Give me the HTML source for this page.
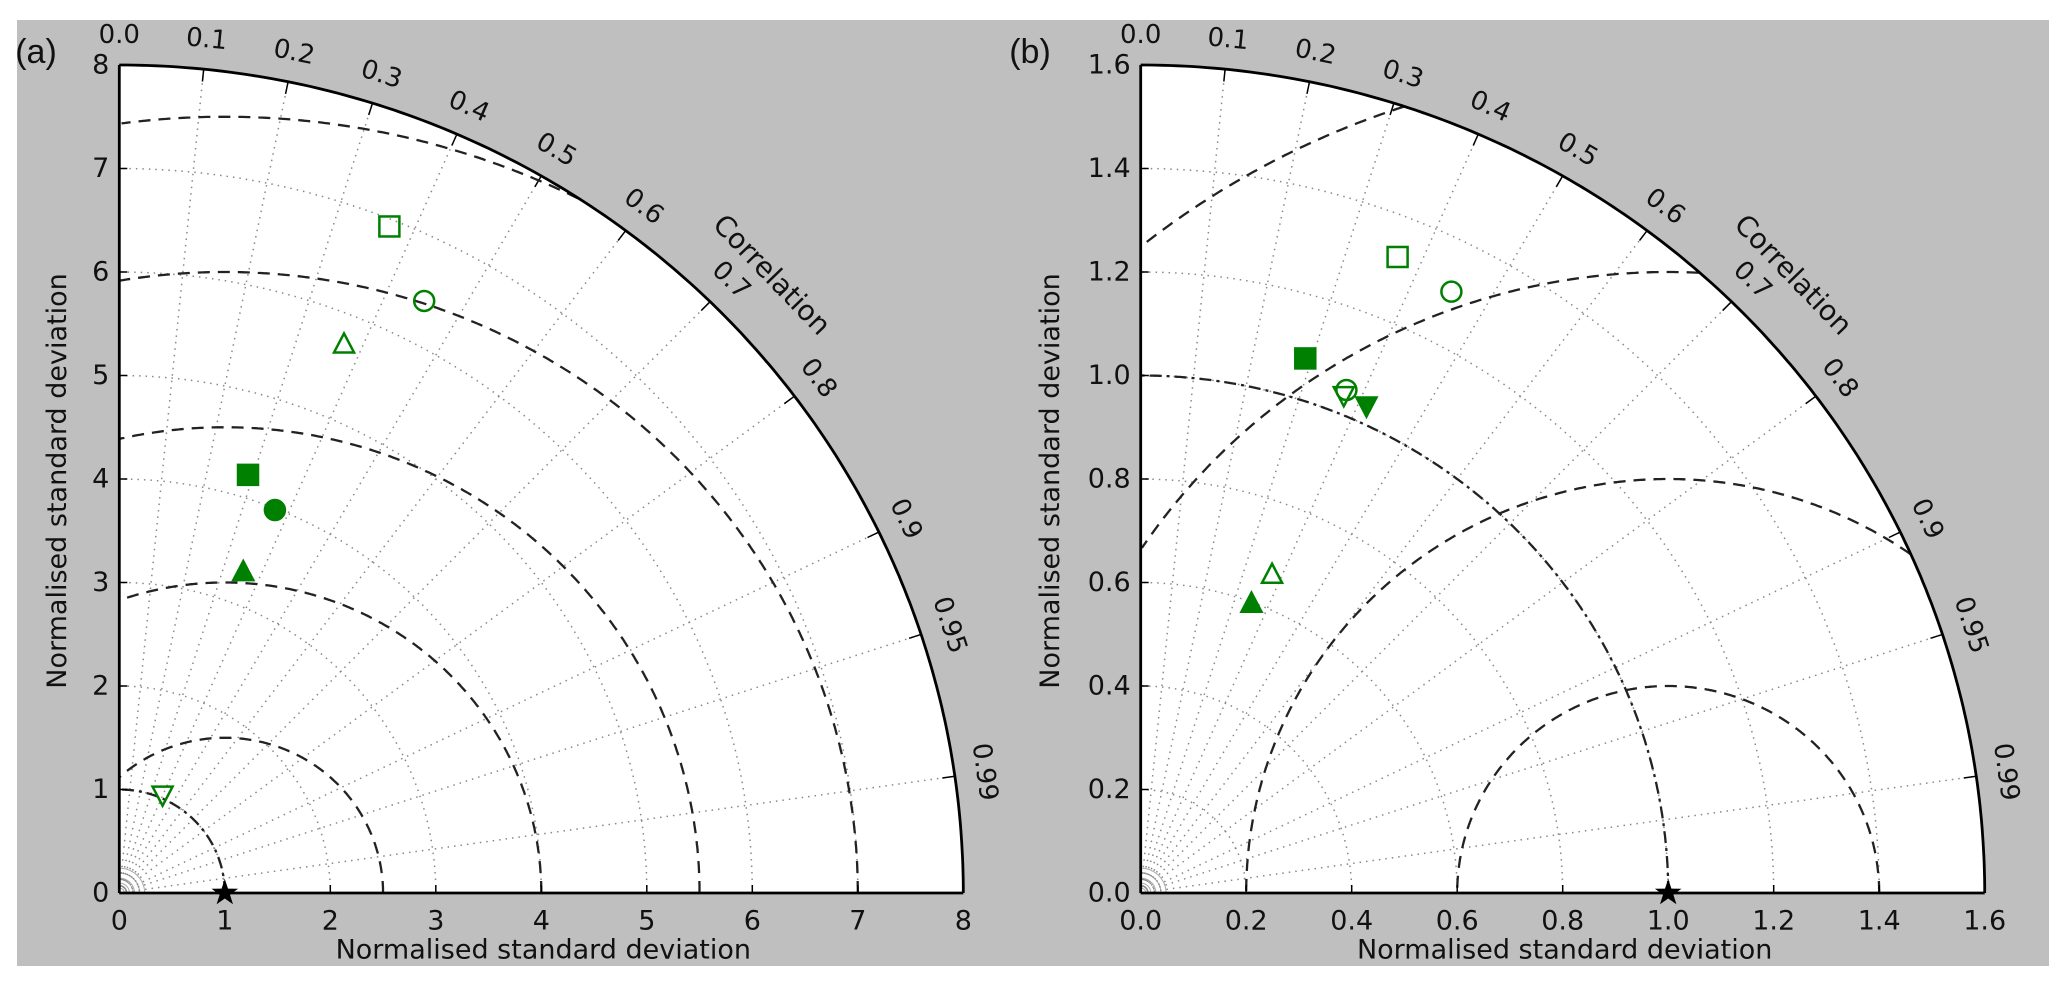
<!DOCTYPE html>
<html><head><meta charset="utf-8"><style>
html,body{margin:0;padding:0;background:#fff;}
svg{display:block;font-family:"DejaVu Sans","Liberation Sans",sans-serif;}
</style></head><body>
<svg id="fig" width="2067" height="985" viewBox="0 0 2067 985" xmlns="http://www.w3.org/2000/svg">
<rect x="17" y="20" width="2032" height="946" fill="#bfbfbf"/>
</svg>
<script>
// ---- Panel (a) data ----
const aStdMax = 8;
const aXTicks = [0,1,2,3,4,5,6,7,8];
const aXTickLabels = ["0","1","2","3","4","5","6","7","8"];
const aYTickLabels = ["0","1","2","3","4","5","6","7","8"];
const aRmsRadii = [1.5,3,4.5,6,7.5];
const aStdGrid = [1,2,3,4,5,6,7];
const aPointNames = ["open-square","open-circle","open-triangle","filled-square","filled-circle","filled-triangle","open-down-triangle"];
const aPointX = [2.56,2.89,2.13,1.22,1.475,1.175,0.41];
const aPointY = [6.44,5.72,5.30,4.04,3.70,3.10,0.95];
// ---- Panel (b) data ----
const bStdMax = 1.6;
const bXTicks = [0,0.2,0.4,0.6,0.8,1.0,1.2,1.4,1.6];
const bXTickLabels = ["0.0","0.2","0.4","0.6","0.8","1.0","1.2","1.4","1.6"];
const bYTickLabels = ["0.0","0.2","0.4","0.6","0.8","1.0","1.2","1.4","1.6"];
const bRmsRadii = [0.4,0.8,1.2,1.6];
const bStdGrid = [0.2,0.4,0.6,0.8,1.0,1.2,1.4];
const bPointNames = ["open-square","open-circle","filled-square","open-circle-2","open-down-triangle","filled-down-triangle","open-triangle","filled-triangle"];
const bPointX = [0.487,0.589,0.312,0.39,0.385,0.428,0.249,0.210];
const bPointY = [1.229,1.162,1.033,0.972,0.962,0.942,0.615,0.559];
// ---- shared ----
const corrTicks = [0,0.1,0.2,0.3,0.4,0.5,0.6,0.7,0.8,0.9,0.95,0.99];
const corrLabels = ["0.0","0.1","0.2","0.3","0.4","0.5","0.6","0.7","0.8","0.9","0.95","0.99"];

const NS="http://www.w3.org/2000/svg";
const svg=document.getElementById('fig');
function mk(tag,attrs,parent){const e=document.createElementNS(NS,tag);for(const k in attrs)e.setAttribute(k,attrs[k]);(parent||svg).appendChild(e);return e;}

function panel(cfg){
  const g=mk('g',{});
  
  
  const ox=cfg.ox, oy=893, Rx=844, Ry=828, M=cfg.max;
  const sx=Rx/M, sy=Ry/M;
  const X=v=>ox+v*sx, Y=v=>oy-v*sy;
  function polar(r,th){return [X(r*Math.cos(th)),Y(r*Math.sin(th))];}
  let d=`M${ox},${oy} `;
  for(let i=0;i<=180;i++){const p=polar(M,Math.PI/2*i/180);d+=`L${p[0].toFixed(1)},${p[1].toFixed(1)} `;}
  d+='Z';
  const bg=mk('path',{d:d,fill:'#fff',stroke:'none'},g);
  
  
  cfg.stdGrid.forEach(r=>{
    let dd='';for(let i=0;i<=90;i++){const p=polar(r,Math.PI/2*i/90);dd+=(i?'L':'M')+p[0].toFixed(1)+','+p[1].toFixed(1)+' ';}
    const e=mk('path',{d:dd,fill:'none',stroke:'#888','stroke-width':1.5,'stroke-dasharray':'1.5,5'},g);
    
    
  });
  for(let k=1;k<=5;k++){const r=M*0.006*k;let dd='';for(let i=0;i<=30;i++){const p=polar(r,Math.PI/2*i/30);dd+=(i?'L':'M')+p[0].toFixed(1)+','+p[1].toFixed(1)+' ';}
    const e=mk('path',{d:dd,fill:'none',stroke:'#aaa','stroke-width':1},g);
    
    }
  corrTicks.forEach((c,i)=>{
    const th=Math.acos(c);const p=polar(M,th);
    const e=mk('line',{x1:ox,y1:oy,x2:p[0],y2:p[1],stroke:'#888','stroke-width':1.5,'stroke-dasharray':'1.5,5'},g);
    
    
    const q=polar(M*0.985,th);
    mk('line',{x1:q[0],y1:q[1],x2:p[0],y2:p[1],stroke:'#000','stroke-width':1.5},g);
    const L=[ox+(M*Math.cos(th))*sx+Math.cos(th)*30, oy-(M*Math.sin(th))*sy-Math.sin(th)*30];
    const rot=90-th*180/Math.PI;
    const t=mk('text',{x:L[0],y:L[1],'font-size':26,'text-anchor':'middle','dominant-baseline':'central',transform:`rotate(${rot.toFixed(1)} ${L[0].toFixed(1)} ${L[1].toFixed(1)})`,fill:'#111'},g);
    t.textContent=corrLabels[i];
    
    
  });
  function clippedCircle(cx,r,dash,name,width){
    let dd='',pen=false;
    for(let i=0;i<=720;i++){const a=Math.PI*i/720;const x=cx+r*Math.cos(a),y=r*Math.sin(a);
      if(x>=0&&Math.hypot(x,y)<=M){dd+=(pen?'L':'M')+X(x).toFixed(1)+','+Y(y).toFixed(1)+' ';pen=true;}else pen=false;}
    const e=mk('path',{d:dd,fill:'none',stroke:'#222','stroke-width':width,'stroke-dasharray':dash},g);
    
    
  }
  cfg.rms.forEach(r=>clippedCircle(1,r,'12,8','rms-contour',2.3));
  clippedCircle(0,1,'12,5,3,5','reference-std-arc',2.3);
  let od='';for(let i=0;i<=180;i++){const p=polar(M,Math.PI/2*i/180);od+=(i?'L':'M')+p[0].toFixed(1)+','+p[1].toFixed(1)+' ';}
  const oa=mk('path',{d:od,fill:'none',stroke:'#000','stroke-width':2.8},g);
  
  
  const xa=mk('line',{x1:ox,y1:oy,x2:X(M),y2:oy,stroke:'#000','stroke-width':2.8},g);
  
  
  const ya=mk('line',{x1:ox,y1:oy,x2:ox,y2:Y(M),stroke:'#000','stroke-width':2.8},g);
  
  
  cfg.xticks.forEach((v,i)=>{
    mk('line',{x1:X(v),y1:oy,x2:X(v),y2:oy-8,stroke:'#000','stroke-width':1.5},g);
    const t=mk('text',{x:X(v),y:oy+28,'font-size':27,'text-anchor':'middle','dominant-baseline':'central',fill:'#111'},g);
    t.textContent=cfg.xlabels[i];
    
    
    mk('line',{x1:ox,y1:Y(v),x2:ox+8,y2:Y(v),stroke:'#000','stroke-width':1.5},g);
    const u=mk('text',{x:ox-10,y:Y(v),'font-size':27,'text-anchor':'end','dominant-baseline':'central',fill:'#111'},g);
    u.textContent=cfg.ylabels[i];
    
    
  });
  const xt=mk('text',{x:ox+424,y:950,'font-size':27,'text-anchor':'middle','dominant-baseline':'central',fill:'#111'},g);
  xt.textContent='Normalised standard deviation';
  
  
  const yx=ox-cfg.yTitleOff, yy=481;
  const yt=mk('text',{x:yx,y:yy,'font-size':27,'text-anchor':'middle','dominant-baseline':'central',fill:'#111',transform:`rotate(-90 ${yx} ${yy})`},g);
  yt.textContent='Normalised standard deviation';
  
  
  const ca=44*Math.PI/180;const cx=ox+Math.cos(ca)*M*sx*1.075, cy=oy-Math.sin(ca)*M*sy*1.075;
  const ct=mk('text',{x:cx,y:cy,'font-size':28,'text-anchor':'middle','dominant-baseline':'central',fill:'#111',transform:`rotate(46 ${cx.toFixed(1)} ${cy.toFixed(1)})`},g);
  ct.textContent='Correlation';
  
  
  const pl=mk('text',{x:cfg.labelX,y:52,'font-size':34,'text-anchor':'middle','dominant-baseline':'central',fill:'#111',style:'font-family:"Liberation Sans",sans-serif'},g);
  pl.textContent=cfg.label;
  
  
  const G='#008000';
  function marker(kind,px,py,name){
    const s=10;let e;
    const open=kind.startsWith('open');
    const fill=open?'none':G, st={stroke:G,'stroke-width':2.5,fill:fill};
    if(kind.includes('square'))e=mk('rect',Object.assign({x:px-s,y:py-s,width:2*s,height:2*s},st),g);
    else if(kind.includes('circle'))e=mk('circle',Object.assign({cx:px,cy:py,r:s},st),g);
    else if(kind.includes('down'))e=mk('polygon',Object.assign({points:`${px-s},${py-s*0.8} ${px+s},${py-s*0.8} ${px},${py+s*1.1}`},st),g);
    else e=mk('polygon',Object.assign({points:`${px-s},${py+s*0.8} ${px+s},${py+s*0.8} ${px},${py-s*1.1}`},st),g);
    
    
  }
  cfg.names.forEach((n,i)=>marker(n.replace(/-2$/,''),X(cfg.px[i]),Y(cfg.py[i]),'point-'+n));
  const sxp=X(1),syp=oy;let sp='';
  for(let i=0;i<10;i++){const r=i%2?5.5:14;const a=-Math.PI/2+i*Math.PI/5;sp+=(sxp+r*Math.cos(a)).toFixed(1)+','+(syp+r*Math.sin(a)).toFixed(1)+' ';}
  const star=mk('polygon',{points:sp,fill:'#000'},g);
  
  
}
panel({name:'panel-a',ox:119.3,max:aStdMax,stdGrid:aStdGrid,rms:aRmsRadii,xticks:aXTicks,xlabels:aXTickLabels,ylabels:aYTickLabels,names:aPointNames,px:aPointX,py:aPointY,label:'(a)',labelX:36,yTitleOff:62});
panel({name:'panel-b',ox:1140.7,max:bStdMax,stdGrid:bStdGrid,rms:bRmsRadii,xticks:bXTicks,xlabels:bXTickLabels,ylabels:bYTickLabels,names:bPointNames,px:bPointX,py:bPointY,label:'(b)',labelX:1030,yTitleOff:90});
</script>
</body></html>
